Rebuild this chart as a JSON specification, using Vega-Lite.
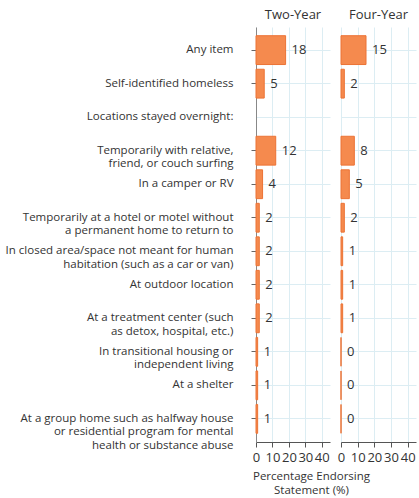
{
  "$schema": "https://vega.github.io/schema/vega-lite/v6.json",
  "background": "white",
  "padding": {"left": 5, "top": 9, "right": 2, "bottom": 1},
  "bounds": "flush",
  "config": {
    "view": {"stroke": null},
    "font": "Open Sans",
    "axis": {"gridColor": "#dcedf3", "gridWidth": 1, "labelColor": "#333333", "titleColor": "#333333"},
    "title": {"fontSize": 13, "fontWeight": "normal", "color": "#333333", "offset": 5}
  },
  "datasets": {
    "d": [
      {"item": "Any item", "group": "Two-Year", "pct": 18},
      {"item": "Self-identified homeless", "group": "Two-Year", "pct": 5},
      {"item": "Temporarily with relative,|friend, or couch surfing", "group": "Two-Year", "pct": 12},
      {"item": "In a camper or RV", "group": "Two-Year", "pct": 4},
      {"item": "Temporarily at a hotel or motel without|a permanent home to return to", "group": "Two-Year", "pct": 2},
      {"item": "In closed area/space not meant for human|habitation (such as a car or van)", "group": "Two-Year", "pct": 2},
      {"item": "At outdoor location", "group": "Two-Year", "pct": 2},
      {"item": "At a treatment center (such|as detox, hospital, etc.)", "group": "Two-Year", "pct": 2},
      {"item": "In transitional housing or|independent living", "group": "Two-Year", "pct": 1},
      {"item": "At a shelter", "group": "Two-Year", "pct": 1},
      {"item": "At a group home such as halfway house|or residential program for mental|health or substance abuse", "group": "Two-Year", "pct": 1},
      {"item": "Any item", "group": "Four-Year", "pct": 15},
      {"item": "Self-identified homeless", "group": "Four-Year", "pct": 2},
      {"item": "Temporarily with relative,|friend, or couch surfing", "group": "Four-Year", "pct": 8},
      {"item": "In a camper or RV", "group": "Four-Year", "pct": 5},
      {"item": "Temporarily at a hotel or motel without|a permanent home to return to", "group": "Four-Year", "pct": 2},
      {"item": "In closed area/space not meant for human|habitation (such as a car or van)", "group": "Four-Year", "pct": 1},
      {"item": "At outdoor location", "group": "Four-Year", "pct": 1},
      {"item": "At a treatment center (such|as detox, hospital, etc.)", "group": "Four-Year", "pct": 1},
      {"item": "In transitional housing or|independent living", "group": "Four-Year", "pct": 0},
      {"item": "At a shelter", "group": "Four-Year", "pct": 0},
      {"item": "At a group home such as halfway house|or residential program for mental|health or substance abuse", "group": "Four-Year", "pct": 0}
    ]
  },
  "spacing": 11,
  "hconcat": [
    {
      "title": "Two-Year",
      "width": 74,
      "height": 415,
      "data": {"name": "d"},
      "transform": [{"filter": "datum.group === 'Two-Year'"}],
      "encoding": {
        "y": {
          "field": "item", "type": "nominal",
          "scale": {"domain": ["Any item", "Self-identified homeless", "Locations stayed overnight:", "Temporarily with relative,|friend, or couch surfing", "In a camper or RV", "Temporarily at a hotel or motel without|a permanent home to return to", "In closed area/space not meant for human|habitation (such as a car or van)", "At outdoor location", "At a treatment center (such|as detox, hospital, etc.)", "In transitional housing or|independent living", "At a shelter", "At a group home such as halfway house|or residential program for mental|health or substance abuse"], "paddingInner": 0.14, "paddingOuter": 0.26},
          "axis": {"title": null, "labelExpr": "split(datum.label, '|')", "labelFontSize": 11.5, "labelLineHeight": 13.5, "labelPadding": 18, "labelLimit": 300, "domainColor": "#888888", "tickColor": {"condition": {"test": "datum.value === 'Locations stayed overnight:'", "value": "transparent"}, "value": "#666666"}, "tickSize": 5, "grid": true}
        },
        "x": {
          "field": "pct", "type": "quantitative",
          "scale": {"domain": [0, 45], "nice": false},
          "axis": {"values": [0, 10, 20, 30, 40], "title": ["Percentage Endorsing", "Statement (%)"], "titleFontSize": 11.5, "titleLineHeight": 14, "titleFontWeight": "normal", "titleX": 55, "titleAlign": "center", "labelFontSize": 13, "labelFlush": false, "labelOverlap": false, "domainColor": "#555555", "tickColor": "#555555", "tickSize": 5, "labelPadding": 4, "titlePadding": 6, "grid": true}
        }
      },
      "layer": [
        {"mark": {"type": "bar", "color": "#F58A4E", "stroke": "#EC7335", "strokeWidth": 1}},
        {"mark": {"type": "text", "align": "left", "dx": 6, "fontSize": 13, "color": "#333333"}, "encoding": {"text": {"field": "pct", "type": "quantitative"}}}
      ]
    },
    {
      "title": "Four-Year",
      "width": 75,
      "height": 415,
      "data": {"name": "d"},
      "transform": [{"filter": "datum.group === 'Four-Year'"}],
      "encoding": {
        "y": {
          "field": "item", "type": "nominal",
          "scale": {"domain": ["Any item", "Self-identified homeless", "Locations stayed overnight:", "Temporarily with relative,|friend, or couch surfing", "In a camper or RV", "Temporarily at a hotel or motel without|a permanent home to return to", "In closed area/space not meant for human|habitation (such as a car or van)", "At outdoor location", "At a treatment center (such|as detox, hospital, etc.)", "In transitional housing or|independent living", "At a shelter", "At a group home such as halfway house|or residential program for mental|health or substance abuse"], "paddingInner": 0.14, "paddingOuter": 0.26},
          "axis": {"title": null, "labels": false, "ticks": false, "domain": false, "grid": true}
        },
        "x": {
          "field": "pct", "type": "quantitative",
          "scale": {"domain": [0, 45], "nice": false},
          "axis": {"values": [0, 10, 20, 30, 40], "title": null, "labelFontSize": 13, "labelFlush": false, "labelOverlap": false, "domainColor": "#555555", "tickColor": "#555555", "tickSize": 5, "labelPadding": 4, "grid": true}
        }
      },
      "layer": [
        {"mark": {"type": "bar", "color": "#F58A4E", "stroke": "#EC7335", "strokeWidth": 1}},
        {"mark": {"type": "text", "align": "left", "dx": 6, "fontSize": 13, "color": "#333333"}, "encoding": {"text": {"field": "pct", "type": "quantitative"}}}
      ]
    }
  ]
}
